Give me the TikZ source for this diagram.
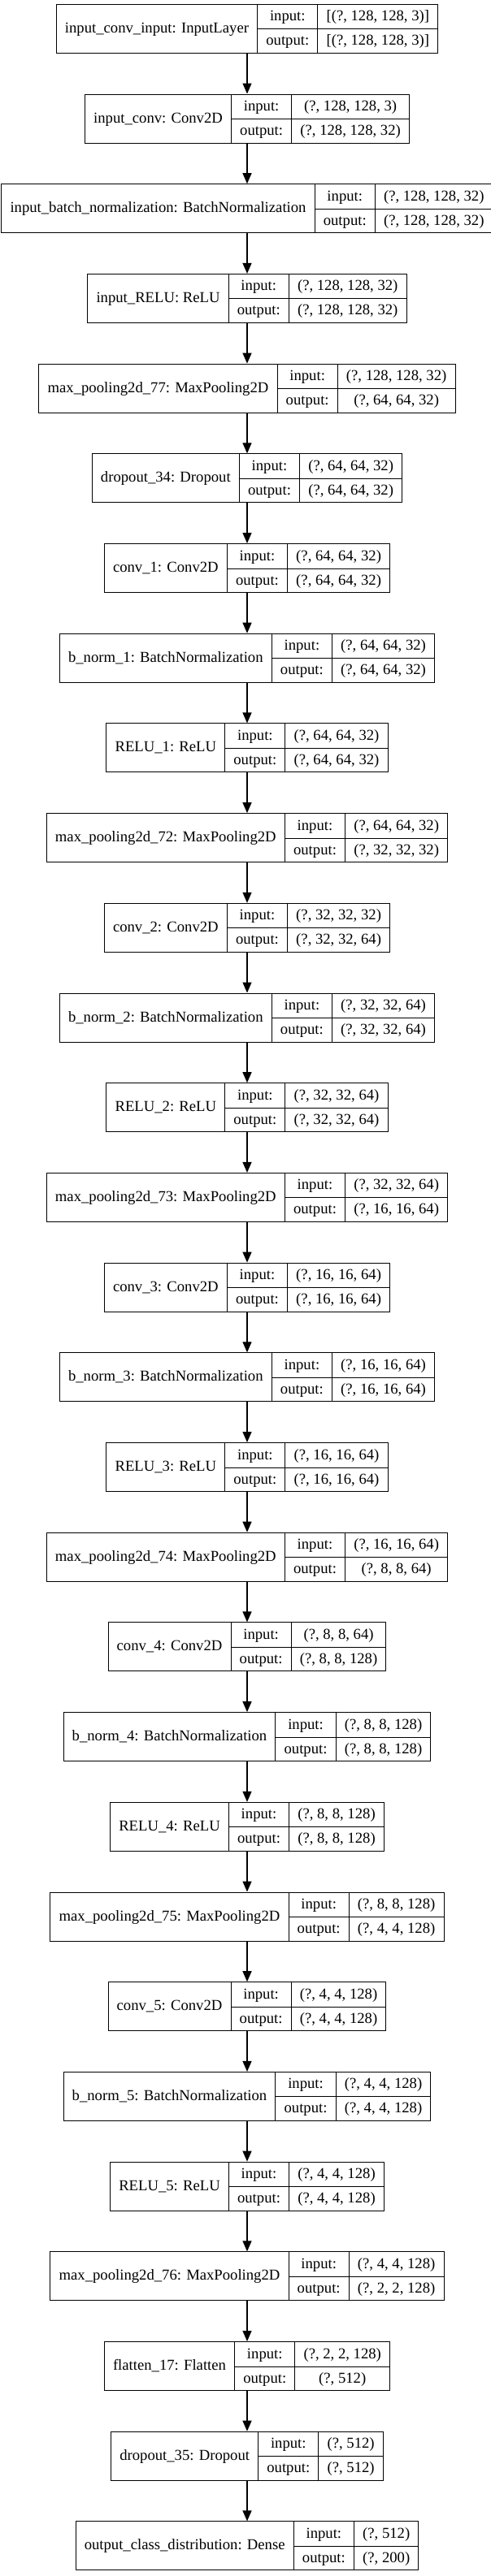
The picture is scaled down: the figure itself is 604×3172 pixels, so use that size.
\documentclass[tikz,border=0pt]{standalone}
\usepackage{fontspec}
\setmainfont{Liberation Serif}
\usetikzlibrary{arrows.meta}
\setlength{\arrayrulewidth}{1pt}
\setlength{\tabcolsep}{10.67pt}
\newcommand{\rowstrut}{\rule[-9.5pt]{0pt}{30pt}}
\newcommand{\layerbox}[3]{\begin{tabular}{c|c|c}
\rowstrut & input: & #2\\ \cline{2-3}
\rowstrut\raisebox{15.5pt}[0pt][0pt]{#1} & output: & #3
\end{tabular}}
\tikzset{
  layer/.style={draw, line width=1pt, inner sep=0pt, font=\fontsize{18.67pt}{22.4pt}\selectfont},
  flow/.style={-{Triangle[length=13pt,width=11pt]}, line width=1.3pt}
}
\begin{document}
\begin{tikzpicture}[x=1pt,y=-1pt]
 \useasboundingbox (0,0) rectangle (604,3172);
 \node[layer] (convinput) at (304,35.3) {\layerbox{input\_conv\_input: InputLayer}{[(?, 128, 128, 3)]}{[(?, 128, 128, 3)]}};
 \node[layer] (inconv) at (304,146.0) {\layerbox{input\_conv: Conv2D}{(?, 128, 128, 3)}{(?, 128, 128, 32)}};
 \node[layer] (inbnorm) at (304,256.7) {\layerbox{input\_batch\_normalization: BatchNormalization}{(?, 128, 128, 32)}{(?, 128, 128, 32)}};
 \node[layer] (inrelu) at (304,367.4) {\layerbox{input\_RELU: ReLU}{(?, 128, 128, 32)}{(?, 128, 128, 32)}};
 \node[layer] (pool77) at (304,478.1) {\layerbox{max\_pooling2d\_77: MaxPooling2D}{(?, 128, 128, 32)}{(?, 64, 64, 32)}};
 \node[layer] (drop34) at (304,588.8) {\layerbox{dropout\_34: Dropout}{(?, 64, 64, 32)}{(?, 64, 64, 32)}};
 \node[layer] (conv1) at (304,699.5) {\layerbox{conv\_1: Conv2D}{(?, 64, 64, 32)}{(?, 64, 64, 32)}};
 \node[layer] (bnorm1) at (304,810.2) {\layerbox{b\_norm\_1: BatchNormalization}{(?, 64, 64, 32)}{(?, 64, 64, 32)}};
 \node[layer] (relu1) at (304,920.9) {\layerbox{RELU\_1: ReLU}{(?, 64, 64, 32)}{(?, 64, 64, 32)}};
 \node[layer] (pool72) at (304,1031.6) {\layerbox{max\_pooling2d\_72: MaxPooling2D}{(?, 64, 64, 32)}{(?, 32, 32, 32)}};
 \node[layer] (conv2) at (304,1142.3) {\layerbox{conv\_2: Conv2D}{(?, 32, 32, 32)}{(?, 32, 32, 64)}};
 \node[layer] (bnorm2) at (304,1253.0) {\layerbox{b\_norm\_2: BatchNormalization}{(?, 32, 32, 64)}{(?, 32, 32, 64)}};
 \node[layer] (relu2) at (304,1363.7) {\layerbox{RELU\_2: ReLU}{(?, 32, 32, 64)}{(?, 32, 32, 64)}};
 \node[layer] (pool73) at (304,1474.4) {\layerbox{max\_pooling2d\_73: MaxPooling2D}{(?, 32, 32, 64)}{(?, 16, 16, 64)}};
 \node[layer] (conv3) at (304,1585.1) {\layerbox{conv\_3: Conv2D}{(?, 16, 16, 64)}{(?, 16, 16, 64)}};
 \node[layer] (bnorm3) at (304,1695.8) {\layerbox{b\_norm\_3: BatchNormalization}{(?, 16, 16, 64)}{(?, 16, 16, 64)}};
 \node[layer] (relu3) at (304,1806.5) {\layerbox{RELU\_3: ReLU}{(?, 16, 16, 64)}{(?, 16, 16, 64)}};
 \node[layer] (pool74) at (304,1917.2) {\layerbox{max\_pooling2d\_74: MaxPooling2D}{(?, 16, 16, 64)}{(?, 8, 8, 64)}};
 \node[layer] (conv4) at (304,2027.9) {\layerbox{conv\_4: Conv2D}{(?, 8, 8, 64)}{(?, 8, 8, 128)}};
 \node[layer] (bnorm4) at (304,2138.6) {\layerbox{b\_norm\_4: BatchNormalization}{(?, 8, 8, 128)}{(?, 8, 8, 128)}};
 \node[layer] (relu4) at (304,2249.3) {\layerbox{RELU\_4: ReLU}{(?, 8, 8, 128)}{(?, 8, 8, 128)}};
 \node[layer] (pool75) at (304,2360.0) {\layerbox{max\_pooling2d\_75: MaxPooling2D}{(?, 8, 8, 128)}{(?, 4, 4, 128)}};
 \node[layer] (conv5) at (304,2470.7) {\layerbox{conv\_5: Conv2D}{(?, 4, 4, 128)}{(?, 4, 4, 128)}};
 \node[layer] (bnorm5) at (304,2581.4) {\layerbox{b\_norm\_5: BatchNormalization}{(?, 4, 4, 128)}{(?, 4, 4, 128)}};
 \node[layer] (relu5) at (304,2692.1) {\layerbox{RELU\_5: ReLU}{(?, 4, 4, 128)}{(?, 4, 4, 128)}};
 \node[layer] (pool76) at (304,2802.8) {\layerbox{max\_pooling2d\_76: MaxPooling2D}{(?, 4, 4, 128)}{(?, 2, 2, 128)}};
 \node[layer] (flat17) at (304,2913.5) {\layerbox{flatten\_17: Flatten}{(?, 2, 2, 128)}{(?, 512)}};
 \node[layer] (drop35) at (304,3024.2) {\layerbox{dropout\_35: Dropout}{(?, 512)}{(?, 512)}};
 \node[layer] (dense) at (304,3134.9) {\layerbox{output\_class\_distribution: Dense}{(?, 512)}{(?, 200)}};
 \draw[flow] (convinput) -- (inconv);
 \draw[flow] (inconv) -- (inbnorm);
 \draw[flow] (inbnorm) -- (inrelu);
 \draw[flow] (inrelu) -- (pool77);
 \draw[flow] (pool77) -- (drop34);
 \draw[flow] (drop34) -- (conv1);
 \draw[flow] (conv1) -- (bnorm1);
 \draw[flow] (bnorm1) -- (relu1);
 \draw[flow] (relu1) -- (pool72);
 \draw[flow] (pool72) -- (conv2);
 \draw[flow] (conv2) -- (bnorm2);
 \draw[flow] (bnorm2) -- (relu2);
 \draw[flow] (relu2) -- (pool73);
 \draw[flow] (pool73) -- (conv3);
 \draw[flow] (conv3) -- (bnorm3);
 \draw[flow] (bnorm3) -- (relu3);
 \draw[flow] (relu3) -- (pool74);
 \draw[flow] (pool74) -- (conv4);
 \draw[flow] (conv4) -- (bnorm4);
 \draw[flow] (bnorm4) -- (relu4);
 \draw[flow] (relu4) -- (pool75);
 \draw[flow] (pool75) -- (conv5);
 \draw[flow] (conv5) -- (bnorm5);
 \draw[flow] (bnorm5) -- (relu5);
 \draw[flow] (relu5) -- (pool76);
 \draw[flow] (pool76) -- (flat17);
 \draw[flow] (flat17) -- (drop35);
 \draw[flow] (drop35) -- (dense);
\end{tikzpicture}
\end{document}
